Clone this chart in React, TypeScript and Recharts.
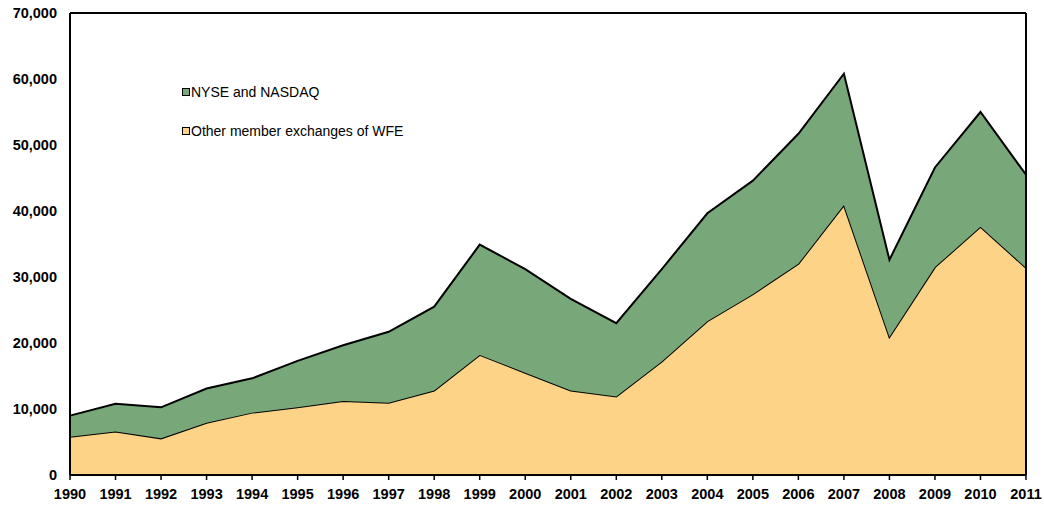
import { AreaChart, Area, XAxis, YAxis, Legend, ReferenceLine } from "recharts";

// années et valeurs
const years = [
  "1990", "1991", "1992", "1993", "1994", "1995", "1996", "1997", "1998", "1999", "2000",
  "2001", "2002", "2003", "2004", "2005", "2006", "2007", "2008", "2009", "2010", "2011",
];

const otherWfe = [
  5800, 6600, 5550, 7900, 9450, 10250, 11200, 10950, 12800, 18200, 15500,
  12800, 11900, 17200, 23300, 27400, 32000, 40900, 20900, 31500, 37600, 31400,
];

const totals = [
  9000, 10800, 10250, 13100, 14650, 17300, 19650, 21700, 25500, 34900, 31200,
  26700, 23000, 31200, 39650, 44600, 51700, 60800, 32600, 46600, 55000, 45500,
];

const yTicks = [0, 10000, 20000, 30000, 40000, 50000, 60000, 70000];

const GREEN = "#78A77A";
const ORANGE = "#FDD387";

const data = years.map((year, i) => ({
  year,
  other: otherWfe[i],
  nyse: totals[i] - otherWfe[i],
}));

const FONT = "'Liberation Sans', Arial, sans-serif";

const fillFor: Record<string, string> = { nyse: GREEN, other: ORANGE };
const legendOrder = ["nyse", "other"];

const LegendContent = (props: any) => {
  const items = [...(props.payload || [])].sort(
    (a: any, b: any) => legendOrder.indexOf(a.dataKey) - legendOrder.indexOf(b.dataKey)
  );
  return (
    <div style={{ fontFamily: FONT, fontSize: 14, color: "#000" }}>
      {items.map((item: any, idx: number) => (
        <div
          key={item.value}
          style={{ display: "flex", alignItems: "center", height: 20, marginBottom: idx === 0 ? 19 : 0 }}
        >
          <span
            style={{
              display: "inline-block",
              width: 6,
              height: 6,
              border: "1.5px solid #000",
              background: fillFor[item.dataKey],
              marginRight: 1,
            }}
          />
          <span>{item.value}</span>
        </div>
      ))}
    </div>
  );
};

const App = () => {
  return (
    <div style={{ position: "absolute", left: 0, top: 0, width: 1044, height: 506, background: "#fff" }}>
      <AreaChart width={1044} height={506} data={data} margin={{ top: 13, right: 18, left: 0, bottom: 0 }}>
        <XAxis
          dataKey="year"
          height={31}
          axisLine={{ stroke: "#000", strokeWidth: 2 }}
          tickLine={{ stroke: "#000", strokeWidth: 1.5 }}
          tickSize={5}
          tickMargin={9}
          interval={0}
          tick={{ fill: "#000", fontSize: 14.5, fontWeight: 700, fontFamily: FONT }}
        />
        <YAxis
          width={70}
          domain={[0, 70000]}
          ticks={yTicks}
          tickFormatter={(v: number) => v.toLocaleString("en-US")}
          axisLine={{ stroke: "#000", strokeWidth: 2 }}
          tickLine={false}
          tickMargin={7}
          tick={{ fill: "#000", fontSize: 14.5, fontWeight: 700, fontFamily: FONT }}
        />
        <Area
          type="linear"
          dataKey="other"
          name="Other member exchanges of WFE"
          stackId="1"
          stroke="#000"
          strokeWidth={2}
          fill={ORANGE}
          fillOpacity={1}
          isAnimationActive={false}
        />
        <Area
          type="linear"
          dataKey="nyse"
          name="NYSE and NASDAQ"
          stackId="1"
          stroke="#000"
          strokeWidth={2}
          fill={GREEN}
          fillOpacity={1}
          isAnimationActive={false}
        />
        <ReferenceLine y={70000} stroke="#000" strokeWidth={2} />
        <ReferenceLine x="2011" stroke="#000" strokeWidth={2} />
        <Legend
          layout="vertical"
          align="center"
          verticalAlign="middle"
          content={LegendContent}
          wrapperStyle={{ left: 182, top: 82, width: 300, height: 60 }}
        />
      </AreaChart>
    </div>
  );
};

export default App;
